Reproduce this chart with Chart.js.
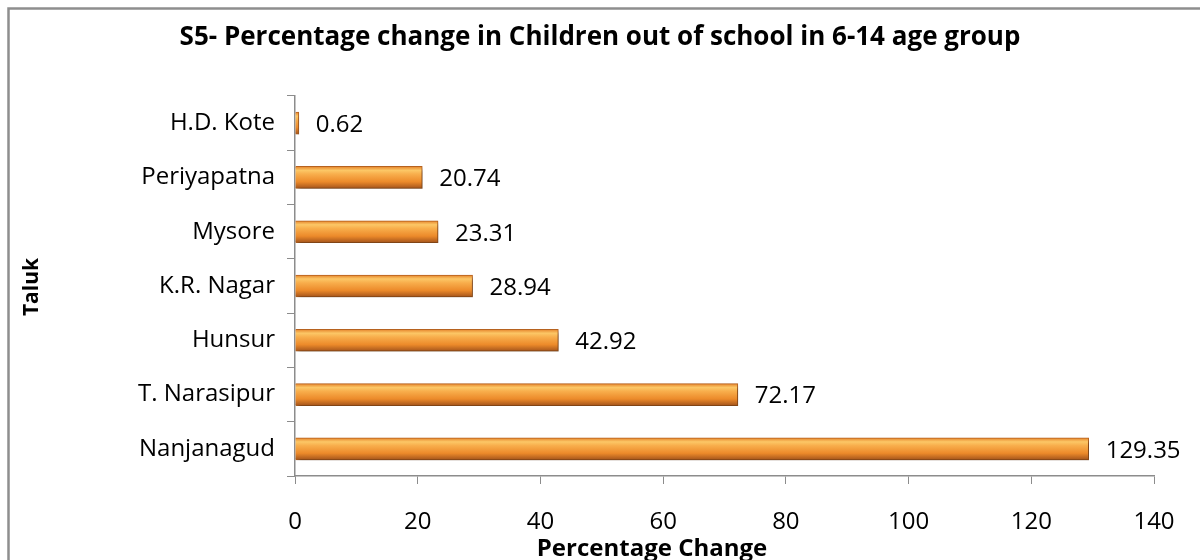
<!DOCTYPE html>
<html>
<head>
<meta charset="utf-8">
<script src="https://cdn.jsdelivr.net/npm/chart.js@4.4.1/dist/chart.umd.min.js"></script>
<style>
  html, body { margin: 0; padding: 0; background: #fff; }
  #wrap { width: 1200px; height: 560px; position: relative; }
</style>
</head>
<body>
<div id="wrap"><canvas id="chart" width="1200" height="560"></canvas></div>
<script>
const taluks = ['H.D. Kote', 'Periyapatna', 'Mysore', 'K.R. Nagar', 'Hunsur', 'T. Narasipur', 'Nanjanagud'];
const pctChange = [0.62, 20.74, 23.31, 28.94, 42.92, 72.17, 129.35];
const xTicks = [0, 20, 40, 60, 80, 100, 120, 140];

const chartTitle = 'S5- Percentage change in Children out of school in 6-14 age group';
const xTitle = 'Percentage Change';
const yTitle = 'Taluk';

const FONT = '"Open Sans", "Liberation Sans", sans-serif';
const AXIS_GREY = '#8c8c8c';

// frame, titles and value labels (Excel style)
const decorPlugin = {
    id: 'decor',
    beforeDraw(chart) {
        const c = chart.ctx;
        c.save();
        c.fillStyle = '#fff';
        c.fillRect(0, 0, chart.width, chart.height);
        c.strokeStyle = '#8e8e8e';
        c.lineWidth = 2.5;
        c.strokeRect(8.5, 8.5, 1400, 800);
        c.restore();
    },
    beforeDatasetsDraw(chart) {
        const c = chart.ctx;
        c.save();
        c.shadowColor = 'rgba(0,0,0,0.35)';
        c.shadowOffsetX = 3;
        c.shadowOffsetY = 3;
        c.shadowBlur = 4;
    },
    afterDatasetsDraw(chart) {
        chart.ctx.restore();
        const c = chart.ctx;
        c.save();
        c.font = '24px ' + FONT;
        c.fillStyle = '#000';
        c.textBaseline = 'middle';
        c.textAlign = 'left';
        chart.getDatasetMeta(0).data.forEach((bar, i) => {
            c.fillText(pctChange[i].toFixed(2), bar.x + 17, bar.y + 2);
        });

        c.font = 'bold 26px ' + FONT;
        c.textAlign = 'center';
        c.fillText(chartTitle, 600, 38);
        c.font = 'bold 24px ' + FONT;
        c.fillText(xTitle, 652, 549);
        c.translate(32, 287);
        c.rotate(-Math.PI / 2);
        c.font = 'bold 21px ' + FONT;
        c.fillText(yTitle, 0, 0);
        c.restore();
    }
};

function barFill(context) {
    const chart = context.chart;
    const yScale = chart.scales.y;
    if (!yScale || yScale.height === undefined) return '#ee8d2a';
    const y = yScale.getPixelForValue(context.dataIndex);
    const h = 11;
    const g = chart.ctx.createLinearGradient(0, y - h, 0, y + h);
    g.addColorStop(0, '#e5822a');
    g.addColorStop(0.18, '#fcc766');
    g.addColorStop(0.35, '#f8ae4c');
    g.addColorStop(0.7, '#ec8a2a');
    g.addColorStop(1, '#a4541b');
    return g;
}

new Chart(document.getElementById('chart'), {
    type: 'bar',
    data: {
        labels: taluks,
        datasets: [{
            data: pctChange,
            backgroundColor: barFill,
            borderColor: '#b9631f',
            borderWidth: 1,
            barThickness: 22
        }]
    },
    options: {
        indexAxis: 'y',
        responsive: false,
        animation: false,
        layout: { padding: { top: 96, right: 46, left: 0, bottom: 0 } },
        plugins: {
            legend: { display: false },
            tooltip: { enabled: false }
        },
        scales: {
            x: {
                min: 0,
                max: 140,
                afterBuildTicks: (scale) => { scale.ticks = xTicks.map(v => ({ value: v })); },
                afterFit: (scale) => { scale.height = 84; },
                grid: { drawOnChartArea: false, drawTicks: true, tickLength: 8, color: AXIS_GREY },
                border: { color: AXIS_GREY, width: 1.5 },
                ticks: { color: '#000', padding: 24, font: { family: FONT, size: 24 } }
            },
            y: {
                afterFit: (scale) => { scale.width = 295; },
                grid: { offset: true, drawOnChartArea: false, drawTicks: true, tickLength: 8, color: AXIS_GREY },
                border: { color: AXIS_GREY, width: 1.5 },
                ticks: { color: '#000', padding: 12, font: { family: FONT, size: 24 } }
            }
        }
    },
    plugins: [decorPlugin]
});
</script>
</body>
</html>
